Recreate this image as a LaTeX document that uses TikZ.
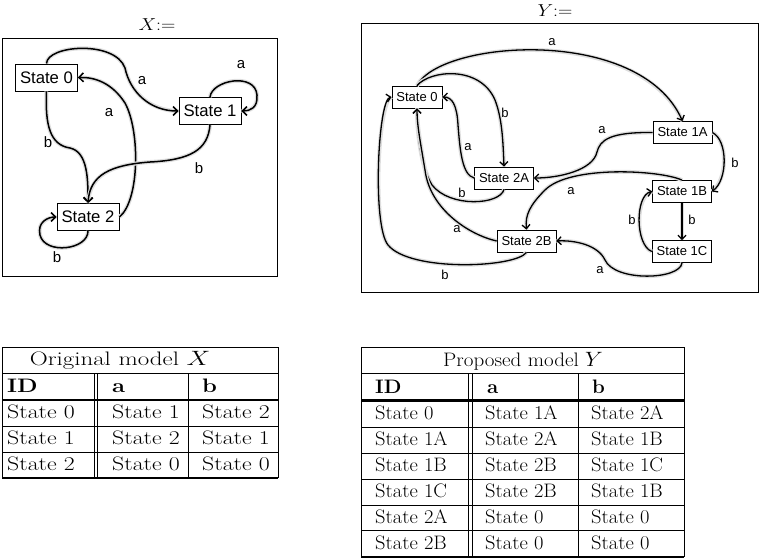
\documentclass[tikz,border=0pt]{standalone}
\usepackage{fontspec}
\newfontfamily\arialf{Liberation Sans}
\usetikzlibrary{arrows.meta}
\newcommand\xsL[1]{\scalebox{1.22}[1]{#1}}
\newcommand\xsR[1]{\scalebox{1.05}[1]{#1}}
\begin{document}
\begin{tikzpicture}[x=1pt,y=-1pt,
  lstate/.style={draw,line width=0.9pt,inner xsep=4.5pt,inner ysep=0pt,minimum height=27pt,font=\arialf\fontsize{16.7}{18}\selectfont},
  rstate/.style={draw,line width=0.8pt,inner xsep=4.5pt,inner ysep=0pt,minimum height=22pt,font=\arialf\fontsize{13}{15}\selectfont},
  shade/.style={preaction={draw=black!13,line width=4pt,arrows=-}},
  ledge/.style={shade,line width=1.5pt,-{Straight Barb[length=4.5pt,width=9pt]}},
  redge/.style={shade,line width=1.3pt,-{Straight Barb[length=4pt,width=8pt]}},
  llab/.style={font=\arialf\fontsize{15}{17}\selectfont,inner sep=0pt},
  rlab/.style={font=\arialf\fontsize{13}{15}\selectfont,inner sep=0pt},
  tcell/.style={anchor=base west,inner sep=0pt,font=\fontsize{19.5}{22}\selectfont},
  ttitle/.style={anchor=base,inner sep=0pt,font=\fontsize{19.5}{22}\selectfont},
  frame/.style={draw,line width=1pt},
  rule/.style={line width=0.9pt},
  thickrule/.style={line width=2.6pt},
]
\useasboundingbox (0,0) rectangle (760,558);

% ---------------- X diagram ----------------
\node[anchor=base,inner sep=0pt,font=\fontsize{18}{20}\selectfont] (xtitle) at (157,30) {\scalebox{1.15}[1]{$X{:}{=}$}};
\draw[frame] (2,38) rectangle (277,276);

\node[lstate] (s0) at (46.5,77.5) {State 0};
\node[lstate] (s1) at (210,111) {State 1};
\node[lstate] (s2) at (88,217) {State 2};

\draw[ledge] (s0.north) .. controls (47,45) and (115,40) .. (125,68) .. controls (130,92) and (150,111) .. (s1.west);
\draw[ledge] (s1.north) .. controls (212,80) and (255,72) .. (257,95) .. controls (258,108) and (250,111) .. (s1.east);
\draw[ledge] (s2.east) .. controls (140,200) and (140,130) .. (125,103) .. controls (112,83) and (95,77) .. (s0.east);
\draw[ledge] (s0.south) .. controls (45,125) and (50,145) .. (70,148) .. controls (88,152) and (88,180) .. (s2.north);
\draw[ledge] (s1.south) .. controls (208,150) and (190,160) .. (150,162) .. controls (110,165) and (90,175) .. (s2.north);
\draw[ledge] (s2.south) .. controls (88,250) and (45,255) .. (40,235) .. controls (37,222) and (48,217) .. (s2.west);

\node[llab] (la1) at (142,81) {a};
\node[llab] (la2) at (241,65) {a};
\node[llab] (la3) at (109,113) {a};
\node[llab] (lb1) at (48,142) {b};
\node[llab] (lb2) at (199,168) {b};
\node[llab] (lb3) at (57,257) {b};

% ---------------- Y diagram ----------------
\node[anchor=base,inner sep=0pt,font=\fontsize{18}{20}\selectfont] (ytitle) at (555,16) {\scalebox{1.15}[1]{$Y{:}{=}$}};
\draw[frame] (361,23) rectangle (758,292);

\node[rstate] (n0) at (417,97) {State 0};
\node[rstate] (n1A) at (682.5,132.5) {State 1A};
\node[rstate] (n2A) at (504,178) {State 2A};
\node[rstate] (n1B) at (682,191.5) {State 1B};
\node[rstate] (n2B) at (526.5,241) {State 2B};
\node[rstate] (n1C) at (682,251.5) {State 1C};

\draw[redge] (n0.north) .. controls (440,40) and (640,25) .. (n1A.north);
\draw[redge] (n0.north) .. controls (430,70) and (480,65) .. (495,100) .. controls (502,118) and (503,140) .. (n2A.north);
\draw[redge] (n2A.west) .. controls (462,175) and (460,150) .. (458,125) .. controls (457,105) and (452,97) .. (n0.east);
\draw[redge] (n2A.south) .. controls (500,205) and (450,208) .. (432,185) .. controls (420,165) and (417,130) .. (n0.south);
\draw[redge] (n1A.west) .. controls (610,132) and (600,140) .. (597,152) .. controls (593,170) and (560,178) .. (n2A.east);
\draw[redge] (n1A.east) .. controls (728,140) and (728,180) .. (n1B.east);
\draw[redge] (n1B.north) .. controls (660,170) and (570,165) .. (545,190) .. controls (530,205) and (525,215) .. (n2B.north);
\draw[redge] (n1B.south) -- (n1C.north);
\draw[redge] (n1C.west) .. controls (635,245) and (635,195) .. (n1B.west);
\draw[redge] (n1C.south) .. controls (680,280) and (615,282) .. (605,260) .. controls (598,245) and (575,240) .. (n2B.east);
\draw[redge] (n2B.west) .. controls (470,235) and (430,210) .. (425,170) .. controls (420,140) and (417,125) .. (n0.south);
\draw[redge] (n2B.south) .. controls (515,268) and (410,272) .. (388,245) .. controls (372,225) and (378,100) .. (n0.west);

\node[rlab] (ra1) at (552,42) {a};
\node[rlab] (rb1) at (505,113) {b};
\node[rlab] (ra2) at (468,147) {a};
\node[rlab] (rb2) at (462,193) {b};
\node[rlab] (ra3) at (602,130) {a};
\node[rlab] (rb3) at (735,163) {b};
\node[rlab] (ra4) at (571,191) {a};
\node[rlab] (rb4) at (692,220) {b};
\node[rlab] (rb5) at (632,220) {b};
\node[rlab] (ra5) at (600,270) {a};
\node[rlab] (ra6) at (457,229) {a};
\node[rlab] (rb6) at (445,275) {b};

% ---------------- Table X ----------------
\draw[rule] (2,347.3) -- (278.3,347.3);
\draw[rule] (2,373.3) -- (278.3,373.3);
\draw[thickrule] (2,400) -- (278.3,400);
\draw[rule] (2,426) -- (278.3,426);
\draw[rule] (2,452.7) -- (278.3,452.7);
\draw[line width=1.8pt] (2,478.3) -- (278.3,478.3);
\draw[rule] (2,347.3) -- (2,478.3);
\draw[rule] (278.3,347.3) -- (278.3,478.3);
\draw[rule] (94,373.3) -- (94,478.3);
\draw[rule] (97.3,373.3) -- (97.3,478.3);
\draw[rule] (188.3,373.3) -- (188.3,478.3);

\node[ttitle] (xtt) at (120,365) {\scalebox{1.28}[1]{Original model $X$}};
\node[tcell] (xh1) at (7,392.5) {\xsL{\bfseries ID}};
\node[tcell] (xh2) at (112,392.5) {\xsL{\bfseries a}};
\node[tcell] (xh3) at (202,392.5) {\xsL{\bfseries b}};
\foreach \y/\p/\q/\r [count=\i] in {418.5/State 0/State 1/State 2,
    444.5/State 1/State 2/State 1, 470.5/State 2/State 0/State 0}{
  \node[tcell] (xc\i a) at (7,\y) {\xsL{\p}};
  \node[tcell] (xc\i b) at (112,\y) {\xsL{\q}};
  \node[tcell] (xc\i c) at (202,\y) {\xsL{\r}};
}

% ---------------- Table Y ----------------
\draw[rule] (361,347.3) -- (684.3,347.3);
\draw[rule] (361,373.3) -- (684.3,373.3);
\draw[thickrule] (361,400.7) -- (684.3,400.7);
\foreach \yy in {427.3,453.3,479.3,505,530.7}{
  \draw[rule] (361,\yy) -- (684.3,\yy);
}
\draw[line width=1.8pt] (361,556.7) -- (684.3,556.7);
\draw[rule] (361,347.3) -- (361,556.7);
\draw[rule] (684.3,347.3) -- (684.3,556.7);
\draw[rule] (468.3,373.3) -- (468.3,556.7);
\draw[rule] (472.3,373.3) -- (472.3,556.7);
\draw[rule] (578.3,373.3) -- (578.3,556.7);

\node[ttitle] (ytt) at (523,366) {\scalebox{1.08}[1]{Proposed model $Y$}};
\node[tcell] (yh1) at (375,393) {\xsR{\bfseries ID}};
\node[tcell] (yh2) at (487,393) {\xsR{\bfseries a}};
\node[tcell] (yh3) at (592,393) {\xsR{\bfseries b}};
\foreach \y/\p/\q/\r [count=\i] in {419.5/State 0/State 1A/State 2A,
    445.5/State 1A/State 2A/State 1B, 471.5/State 1B/State 2B/State 1C,
    497.5/State 1C/State 2B/State 1B, 523.5/State 2A/State 0/State 0,
    549.5/State 2B/State 0/State 0}{
  \node[tcell] (yc\i a) at (375,\y) {\xsR{\p}};
  \node[tcell] (yc\i b) at (485,\y) {\xsR{\q}};
  \node[tcell] (yc\i c) at (591,\y) {\xsR{\r}};
}
\end{tikzpicture}
\end{document}
